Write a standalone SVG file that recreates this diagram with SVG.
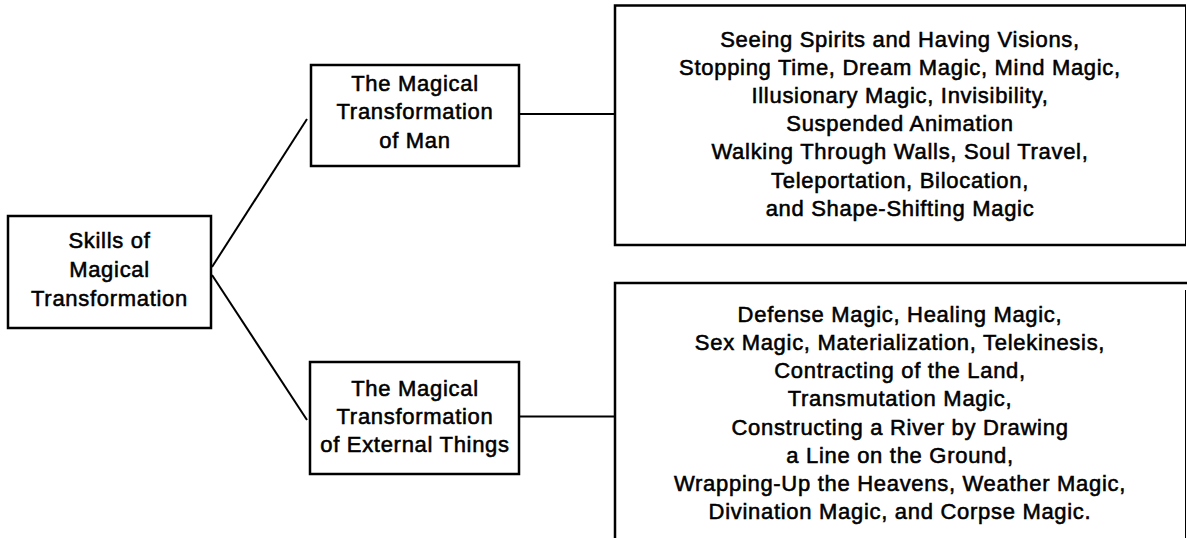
<svg xmlns="http://www.w3.org/2000/svg" width="1187" height="538" viewBox="0 0 1187 538">
<style>
.box{fill:#fff;stroke:#000;stroke-width:2.5}
.thin{fill:none;stroke:#000;stroke-width:1}
.edge{fill:none;stroke:#000;stroke-width:2.5}
.conn{fill:none;stroke:#000;stroke-width:2}
text{font-family:"Liberation Sans",Arial,sans-serif;font-size:22px;font-weight:normal;letter-spacing:0.7px;fill:#000;stroke:#000;stroke-width:0.55;text-anchor:middle}
</style>
<rect width="1187" height="538" fill="#fff"/>
<g id="connectors">
<line class="conn" x1="212" y1="267" x2="307" y2="119"/>
<line class="conn" x1="212" y1="275" x2="307" y2="420"/>
<line class="conn" x1="519" y1="114" x2="615" y2="114"/>
<line class="conn" x1="519" y1="416.5" x2="615" y2="416.5"/>
</g>
<g id="skills">
<rect class="box" x="8" y="216" width="203" height="112"/>
<text x="109.5" y="248">Skills of</text>
<text x="109.5" y="277">Magical</text>
<text x="109.5" y="306">Transformation</text>
</g>
<g id="man">
<rect class="box" x="311" y="65" width="208" height="101"/>
<text x="415" y="90.5">The Magical</text>
<text x="415" y="119">Transformation</text>
<text x="415" y="147.5">of Man</text>
</g>
<g id="external">
<rect class="box" x="310" y="362" width="209" height="112"/>
<text x="415" y="396">The Magical</text>
<text x="415" y="424">Transformation</text>
<text x="415" y="452">of External Things</text>
</g>
<g id="man-skills">
<path class="edge" d="M1186 5.5H615V245H1186"/>
<line class="thin" x1="1185.5" y1="5" x2="1185.5" y2="245"/>
<text x="900" y="46.5">Seeing Spirits and Having Visions,</text>
<text x="900" y="74.7">Stopping Time, Dream Magic, Mind Magic,</text>
<text x="900" y="102.9">Illusionary Magic, Invisibility,</text>
<text x="900" y="131.1">Suspended Animation</text>
<text x="900" y="159.3">Walking Through Walls, Soul Travel,</text>
<text x="900" y="187.5">Teleportation, Bilocation,</text>
<text x="900" y="215.7">and Shape-Shifting Magic</text>
</g>
<g id="external-skills">
<path class="edge" d="M615 540V283H1187"/>
<line class="thin" x1="1185.5" y1="290" x2="1185.5" y2="538"/>
<text x="900" y="321.7">Defense Magic, Healing Magic,</text>
<text x="900" y="349.9">Sex Magic, Materialization, Telekinesis,</text>
<text x="900" y="378.1">Contracting of the Land,</text>
<text x="900" y="406.3">Transmutation Magic,</text>
<text x="900" y="434.5">Constructing a River by Drawing</text>
<text x="900" y="462.7">a Line on the Ground,</text>
<text x="900" y="490.9">Wrapping-Up the Heavens, Weather Magic,</text>
<text x="900" y="519.1">Divination Magic, and Corpse Magic.</text>
</g>
</svg>
